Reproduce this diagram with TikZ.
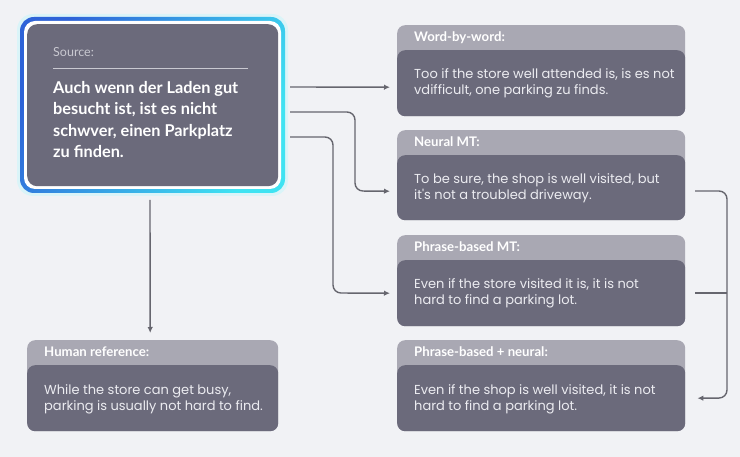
\documentclass[tikz,border=0pt]{standalone}
\usepackage{fontspec}
\setmainfont{Lato}
\newfontfamily\bodyfont{Poppins}
\usetikzlibrary{arrows.meta,calc}
\definecolor{bgc}{HTML}{F1F2F5}
\definecolor{hdrc}{HTML}{A9A8B3}
\definecolor{bodyc}{HTML}{6B6A7B}
\definecolor{linec}{HTML}{66666E}
\definecolor{txtc}{HTML}{ECECF1}
\definecolor{srcl}{HTML}{C9C9D1}
\definecolor{gblue}{HTML}{2E63D8}
\definecolor{gcyan}{HTML}{3FE3F2}
\tikzset{
  hdrbox/.style={fill=hdrc, rounded corners=8pt, draw=none, inner sep=0, anchor=north west},
  bodybox/.style={fill=bodyc, rounded corners=8pt, draw=none, inner sep=0, anchor=north west},
  ttl/.style={font=\bfseries\fontsize{13.2}{15}\selectfont, text=white, anchor=base west, inner sep=0},
  btxt/.style={font=\bodyfont\fontsize{13}{16}\selectfont, text=txtc, anchor=base west, inner sep=0, align=left},
  arr/.style={draw=linec, line width=1.4pt, rounded corners=8pt, -{Latex[length=6pt,width=5.5pt]}},
  conn/.style={draw=linec, line width=1.4pt, rounded corners=8pt},
}
\begin{document}
\begin{tikzpicture}[x=1pt,y=-1pt]
\fill[bgc] (0,0) rectangle (740,457);
\useasboundingbox (0,0) rectangle (740,457);
% source box
\fill[gcyan!30, opacity=0.5, rounded corners=16pt] (17,14) rectangle (288,196);
\shade[rounded corners=14pt, shading=axis, left color=gblue, right color=gcyan, shading angle=60] (20,17) rectangle (285,193);
\fill[white, rounded corners=11pt] (24,21) rectangle (281,189);
\node[bodybox, rounded corners=10pt, minimum width=251pt, minimum height=162pt] (src) at (27,24) {};
\node[font=\fontsize{12.5}{14}\selectfont, text=srcl, anchor=base west, inner sep=0] (srclbl) at (53,57) {Source:};
\draw[srcl, line width=0.6pt] (53,68) -- (248,68);
\node[font=\bfseries\fontsize{16.3}{21.6}\selectfont, text=white, anchor=base west, inner sep=0, align=left] (srctxt) at (53,158)
  {Auch wenn der Laden gut\\besucht ist, ist es nicht\\schwver, einen Parkplatz\\zu finden.};
% right boxes
\node[hdrbox, minimum width=288pt, minimum height=91pt] (wbwh) at (397,25) {};
\node[bodybox, minimum width=288pt, minimum height=66pt] (wbw) at (397,50) {};
\node[ttl] (wbwt) at (414,42) {Word-by-word:};
\node[btxt] (wbwx) at (414,95) {Too if the store well attended is, is es not\\vdifficult, one parking zu finds.};

\node[hdrbox, minimum width=288pt, minimum height=90pt] (nmth) at (397,130) {};
\node[bodybox, minimum width=288pt, minimum height=65pt] (nmt) at (397,155) {};
\node[ttl] (nmtt) at (414,147) {Neural MT:};
\node[btxt] (nmtx) at (414,200) {To be sure, the shop is well visited, but\\it's not a troubled driveway.};

\node[hdrbox, minimum width=288pt, minimum height=91pt] (pbh) at (397,235) {};
\node[bodybox, minimum width=288pt, minimum height=66pt] (pb) at (397,260) {};
\node[ttl] (pbt) at (414,252) {Phrase-based MT:};
\node[btxt] (pbx) at (414,305) {Even if the store visited it is, it is not\\hard to find a parking lot.};

\node[hdrbox, minimum width=288pt, minimum height=91pt] (pnh) at (397,340) {};
\node[bodybox, minimum width=288pt, minimum height=66pt] (pn) at (397,365) {};
\node[ttl] (pnt) at (414,357) {Phrase-based + neural:};
\node[btxt] (pnx) at (414,410) {Even if the shop is well visited, it is not\\hard to find a parking lot.};

% human reference
\node[hdrbox, minimum width=251pt, minimum height=91pt] (hrh) at (27,340) {};
\node[bodybox, minimum width=251pt, minimum height=66pt] (hr) at (27,365) {};
\node[ttl] (hrt) at (44,357) {Human reference:};
\node[btxt] (hrx) at (44,410) {While the store can get busy,\\parking is usually not hard to find.};

% connectors
\coordinate (s1) at (290,87);
\coordinate (s2) at (290,112);
\coordinate (s3) at (290,137);
\coordinate (sd) at (150,200);
\coordinate (m2) at (695,191);
\coordinate (m3) at (695,293);
\coordinate (mx) at (727,293);
\draw[arr] (s1) -- ($(wbw.west)+(-7,4)$);
\draw[arr] (s2) -- (355,112) -- (355,191) -- ($(nmt.west)+(-7,3.5)$);
\draw[arr] (s3) -- (333,137) -- (333,293) -- ($(pb.west)+(-7,0)$);
\draw[arr] (m2) -- (727,191) -- (727,398) -- ($(pn.east)+(12,0)$);
\draw[conn] (m3) -- (mx);
\draw[arr] (sd) -- ($(hrh.north)+(-2.5,-7)$);
\end{tikzpicture}
\end{document}
